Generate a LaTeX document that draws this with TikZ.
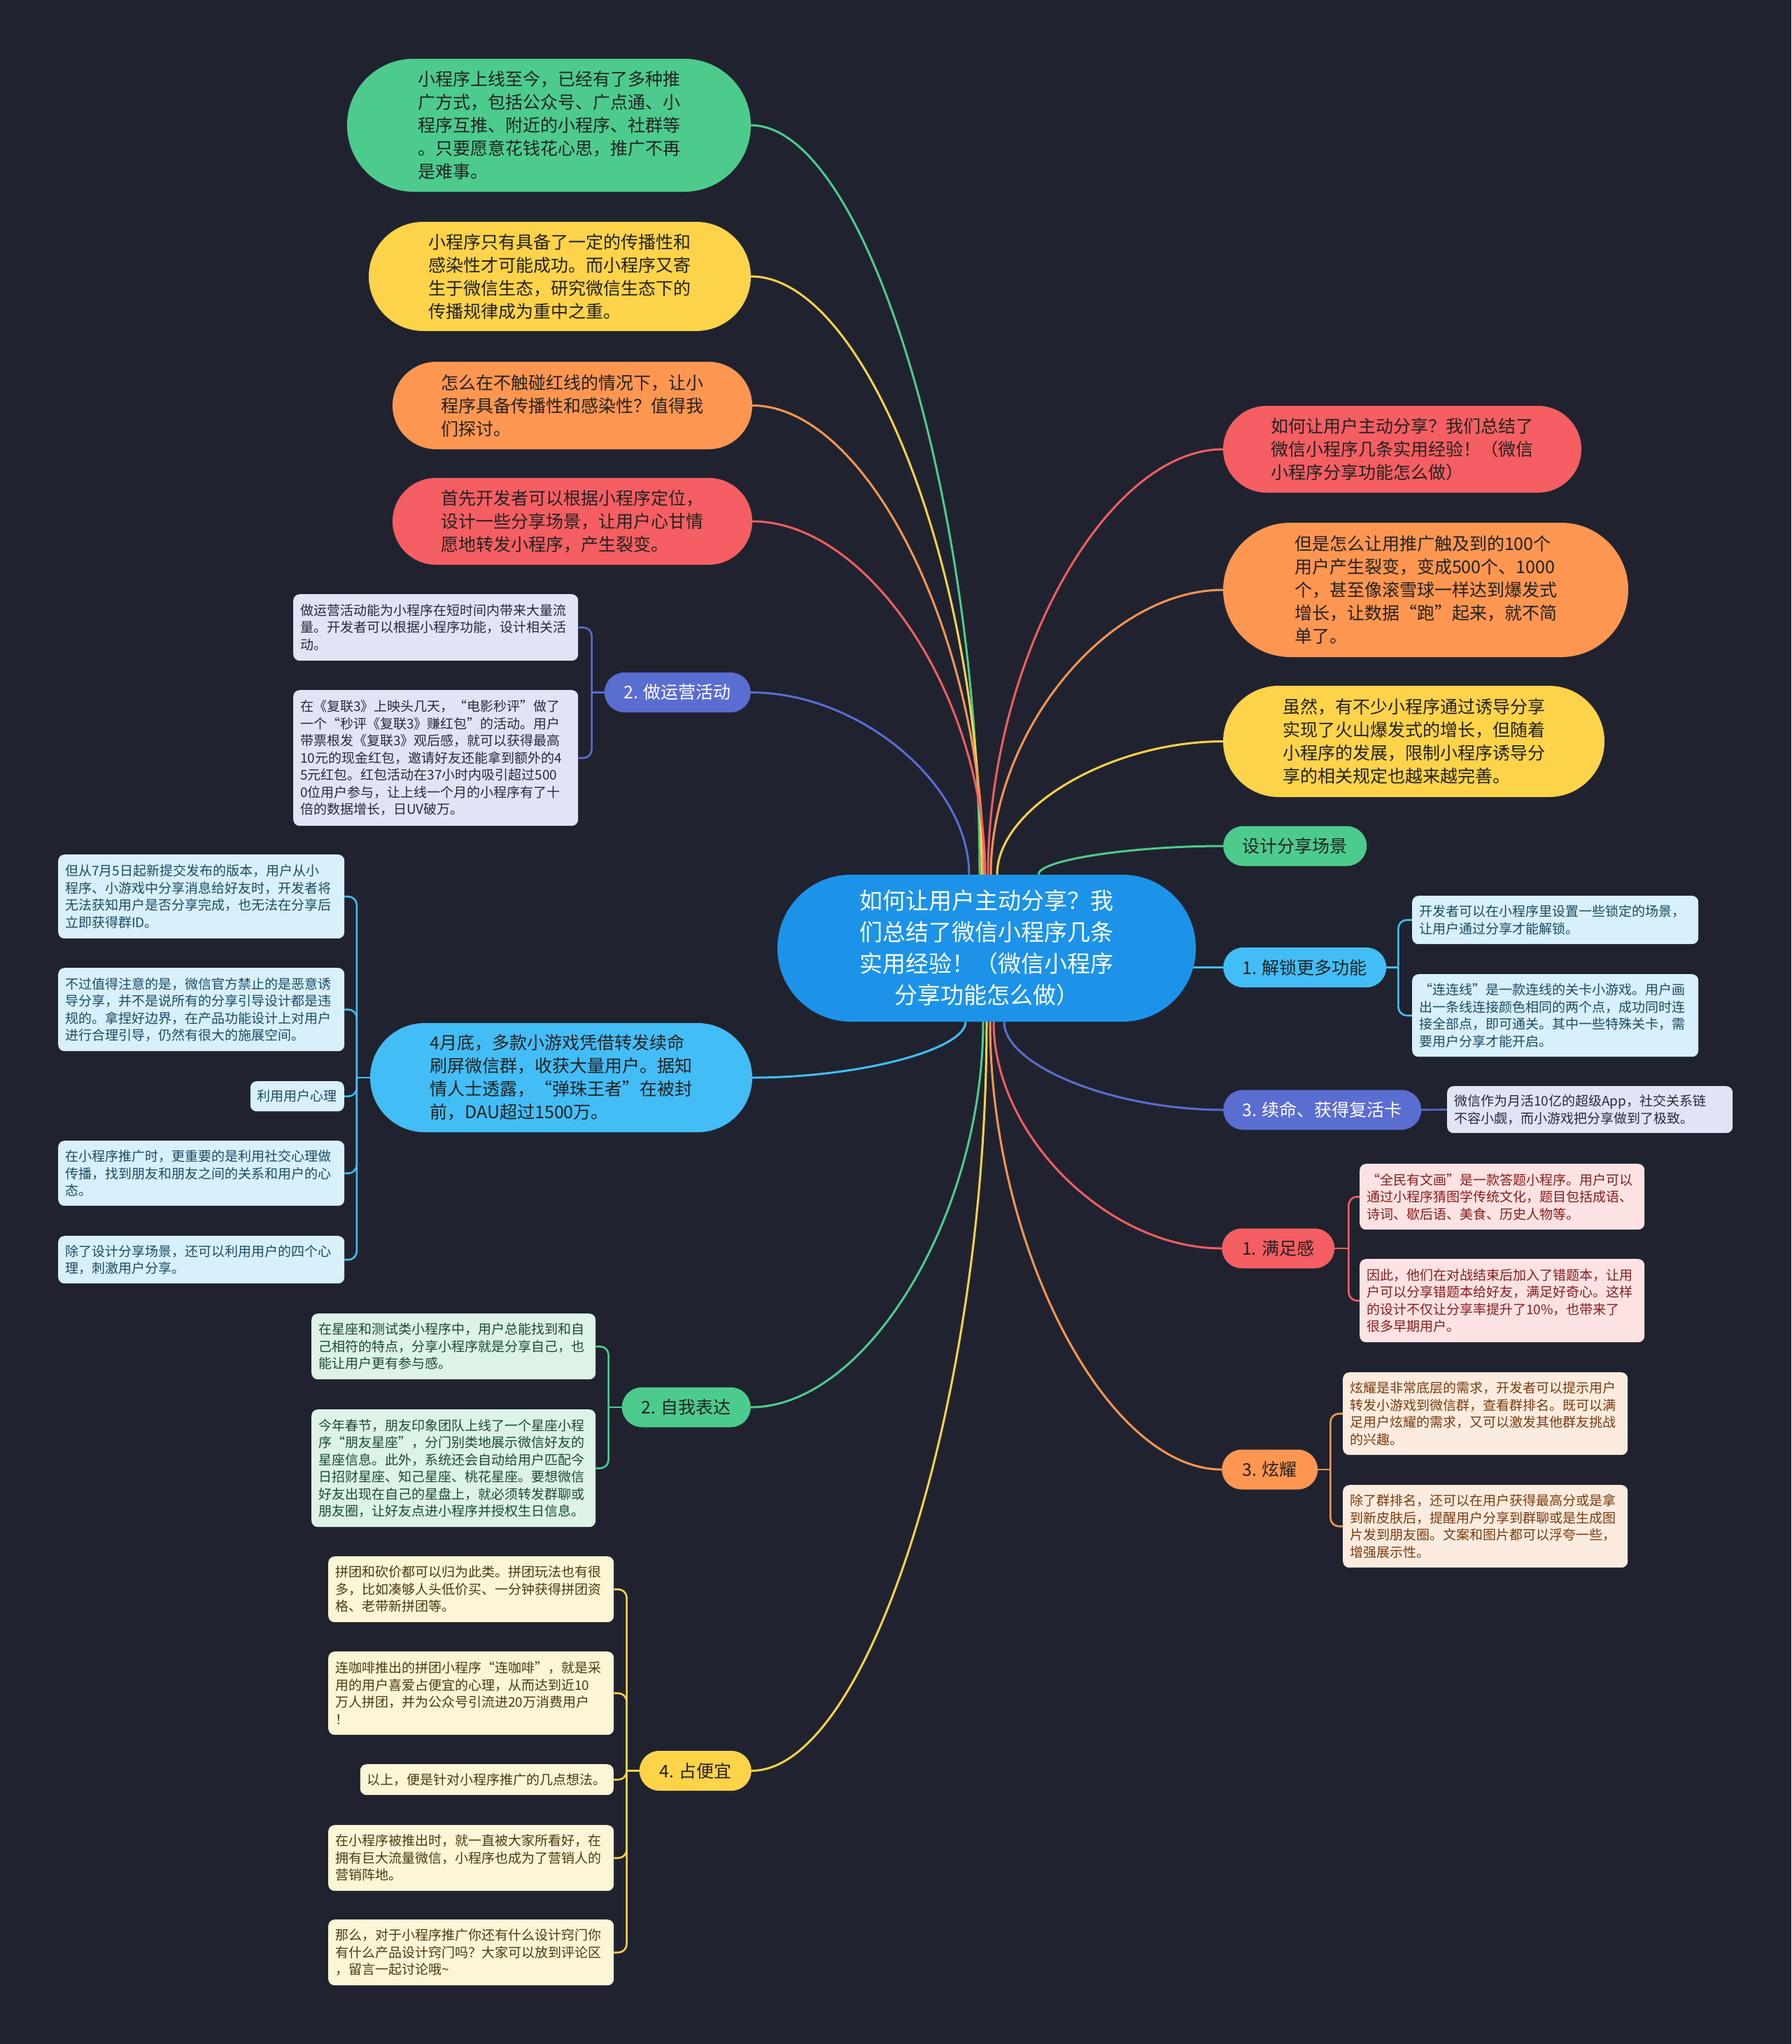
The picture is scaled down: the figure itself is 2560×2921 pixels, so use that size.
\documentclass[tikz,border=0pt]{standalone}
\usepackage{fontspec}
\setmainfont{Noto Sans CJK SC}
\usetikzlibrary{shapes.misc,backgrounds}

\definecolor{bg}{HTML}{20232F}
\definecolor{rootc}{HTML}{1C93E8}
\definecolor{cGreen}{HTML}{4DCB8D}
\definecolor{cYellow}{HTML}{FDD34A}
\definecolor{cOrange}{HTML}{FD9651}
\definecolor{cRed}{HTML}{F55E62}
\definecolor{cSky}{HTML}{43BDF5}
\definecolor{cIndigo}{HTML}{5A6DD1}
\definecolor{ink}{HTML}{222222}
\definecolor{fIndigo}{HTML}{E2E4F6}
\definecolor{fSky}{HTML}{D7F0FB}
\definecolor{fGreen}{HTML}{DCF3E6}
\definecolor{fYellow}{HTML}{FCF5D6}
\definecolor{fRed}{HTML}{FCE2E2}
\definecolor{fOrange}{HTML}{FCECDF}
\definecolor{tIndigo}{HTML}{262A40}
\definecolor{tSky}{HTML}{1C4B63}
\definecolor{tGreen}{HTML}{1D4A33}
\definecolor{tYellow}{HTML}{4A3B10}
\definecolor{tRed}{HTML}{8A1B1B}
\definecolor{tOrange}{HTML}{7A3A0E}

\begin{document}
\begin{tikzpicture}[x=1pt,y=-1pt,
  root/.style={rounded rectangle,fill=rootc,text=white,align=center,
    font=\fontsize{33}{45}\selectfont,minimum width=598pt,minimum height=210pt,inner sep=0pt},
  bubble/.style={rounded rectangle,align=left,text=ink,
    font=\fontsize{25}{33}\selectfont,inner sep=0pt},
  topic/.style={rounded rectangle,text=ink,font=\fontsize{25}{30}\selectfont,
    minimum height=57pt,inner sep=0pt},
  leaf/.style={rectangle,rounded corners=9pt,align=left,
    font=\fontsize{19}{24.5}\selectfont,inner xsep=10pt,inner ysep=0pt},
  leafindigo/.style={leaf,fill=fIndigo,text=tIndigo},
  leafsky/.style={leaf,fill=fSky,text=tSky},
  leafgreen/.style={leaf,fill=fGreen,text=tGreen},
  leafyellow/.style={leaf,fill=fYellow,text=tYellow},
  leafred/.style={leaf,fill=fRed,text=tRed},
  leaforange/.style={leaf,fill=fOrange,text=tOrange},
  link/.style={line width=3pt},
  twig/.style={line width=2.6pt,rounded corners=12pt}]

  % 中心主题
  \node[root] (root) at (1410,1355) {如何让用户主动分享？我\\们总结了微信小程序几条\\实用经验！（微信小程序\\分享功能怎么做）};

  % 左上气泡
  \node[bubble,fill=cGreen,minimum width=577pt,minimum height=190pt] (intro) at (784.5,179)
    {小程序上线至今，已经有了多种推\\广方式，包括公众号、广点通、小\\程序互推、附近的小程序、社群等\\。只要愿意花钱花心思，推广不再\\是难事。};
  \node[bubble,fill=cYellow,minimum width=546pt,minimum height=156pt] (spread) at (800,395)
    {小程序只有具备了一定的传播性和\\感染性才可能成功。而小程序又寄\\生于微信生态，研究微信生态下的\\传播规律成为重中之重。};
  \node[bubble,fill=cOrange,minimum width=514pt,minimum height=125pt] (redline) at (818,579.5)
    {怎么在不触碰红线的情况下，让小\\程序具备传播性和感染性？值得我\\们探讨。};
  \node[bubble,fill=cRed,minimum width=514pt,minimum height=124pt] (scenario) at (818,745)
    {首先开发者可以根据小程序定位，\\设计一些分享场景，让用户心甘情\\愿地转发小程序，产生裂变。};

  % 右上气泡
  \node[bubble,fill=cRed,minimum width=512pt,minimum height=124pt] (title) at (2004,642)
    {如何让用户主动分享？我们总结了\\微信小程序几条实用经验！（微信\\小程序分享功能怎么做）};
  \node[bubble,fill=cOrange,minimum width=579pt,minimum height=192pt] (fission) at (2037.5,843)
    {但是怎么让用推广触及到的100个\\用户产生裂变，变成500个、1000\\个，甚至像滚雪球一样达到爆发式\\增长，让数据“跑”起来，就不简\\单了。};
  \node[bubble,fill=cYellow,minimum width=545pt,minimum height=159pt] (rules) at (2020.5,1059.5)
    {虽然，有不少小程序通过诱导分享\\实现了火山爆发式的增长，但随着\\小程序的发展，限制小程序诱导分\\享的相关规定也越来越完善。};

  % 左侧气泡
  \node[bubble,fill=cSky,minimum width=546pt,minimum height=156pt] (games) at (802,1540)
    {4月底，多款小游戏凭借转发续命\\刷屏微信群，收获大量用户。据知\\情人士透露，“弹珠王者”在被封\\前，DAU超过1500万。};

  % 分支主题
  \node[topic,fill=cIndigo,text=white,minimum width=209pt,anchor=east] (activity) at (1073,989.5) {2. 做运营活动};
  \node[topic,fill=cGreen,minimum width=184pt,anchor=east] (express) at (1073,2011) {2. 自我表达};
  \node[topic,fill=cYellow,minimum width=160pt,anchor=east] (bargain) at (1074,2530.5) {4. 占便宜};
  \node[topic,fill=cGreen,minimum width=205pt,anchor=west] (design) at (1748,1209) {设计分享场景};
  \node[topic,fill=cSky,minimum width=233pt,anchor=west] (unlock) at (1748,1382.5) {1. 解锁更多功能};
  \node[topic,fill=cIndigo,text=white,minimum width=283pt,anchor=west] (revive) at (1748,1586) {3. 续命、获得复活卡};
  \node[topic,fill=cRed,minimum width=161pt,anchor=west] (satisfy) at (1746,1784) {1. 满足感};
  \node[topic,fill=cOrange,minimum width=137pt,anchor=west] (showoff) at (1746,2100) {3. 炫耀};

  % 做运营活动
  \node[leafindigo,anchor=north west,text width=387pt,minimum height=95pt] (activity1) at (419,849)
    {做运营活动能为小程序在短时间内带来大量流\\量。开发者可以根据小程序功能，设计相关活\\动。};
  \node[leafindigo,anchor=north west,text width=387pt,minimum height=194pt] (activity2) at (419,986)
    {在《复联3》上映头几天，“电影秒评”做了\\一个“秒评《复联3》赚红包”的活动。用户\\带票根发《复联3》观后感，就可以获得最高\\10元的现金红包，邀请好友还能拿到额外的4\\5元红包。红包活动在37小时内吸引超过500\\0位用户参与，让上线一个月的小程序有了十\\倍的数据增长，日UV破万。};

  % 利用用户心理
  \node[leafsky,anchor=north west,text width=389pt,minimum height=120pt] (games1) at (83,1221)
    {但从7月5日起新提交发布的版本，用户从小\\程序、小游戏中分享消息给好友时，开发者将\\无法获知用户是否分享完成，也无法在分享后\\立即获得群ID。};
  \node[leafsky,anchor=north west,text width=389pt,minimum height=119pt] (games2) at (83,1383)
    {不过值得注意的是，微信官方禁止的是恶意诱\\导分享，并不是说所有的分享引导设计都是违\\规的。拿捏好边界，在产品功能设计上对用户\\进行合理引导，仍然有很大的施展空间。};
  \node[leafsky,anchor=north east,minimum height=43pt] (games3) at (492,1545) {利用用户心理};
  \node[leafsky,anchor=north west,text width=389pt,minimum height=93pt] (games4) at (83,1630)
    {在小程序推广时，更重要的是利用社交心理做\\传播，找到朋友和朋友之间的关系和用户的心\\态。};
  \node[leafsky,anchor=north west,text width=389pt,minimum height=68pt] (games5) at (83,1766)
    {除了设计分享场景，还可以利用用户的四个心\\理，刺激用户分享。};

  % 自我表达
  \node[leafgreen,anchor=north west,text width=386pt,minimum height=94pt] (express1) at (445,1877)
    {在星座和测试类小程序中，用户总能找到和自\\己相符的特点，分享小程序就是分享自己，也\\能让用户更有参与感。};
  \node[leafgreen,anchor=north west,text width=386pt,minimum height=168pt] (express2) at (445,2014)
    {今年春节，朋友印象团队上线了一个星座小程\\序“朋友星座”，分门别类地展示微信好友的\\星座信息。此外，系统还会自动给用户匹配今\\日招财星座、知己星座、桃花星座。要想微信\\好友出现在自己的星盘上，就必须转发群聊或\\朋友圈，让好友点进小程序并授权生日信息。};

  % 占便宜
  \node[leafyellow,anchor=north west,text width=388pt,minimum height=94pt] (bargain1) at (469,2224)
    {拼团和砍价都可以归为此类。拼团玩法也有很\\多，比如凑够人头低价买、一分钟获得拼团资\\格、老带新拼团等。};
  \node[leafyellow,anchor=north west,text width=388pt,minimum height=119pt] (bargain2) at (469,2360)
    {连咖啡推出的拼团小程序“连咖啡”，就是采\\用的用户喜爱占便宜的心理，从而达到近10\\万人拼团，并为公众号引流进20万消费用户\\！};
  \node[leafyellow,anchor=north east,minimum height=44pt] (bargain3) at (877,2521) {以上，便是针对小程序推广的几点想法。};
  \node[leafyellow,anchor=north west,text width=388pt,minimum height=94pt] (bargain4) at (469,2608)
    {在小程序被推出时，就一直被大家所看好，在\\拥有巨大流量微信，小程序也成为了营销人的\\营销阵地。};
  \node[leafyellow,anchor=north west,text width=388pt,minimum height=94pt] (bargain5) at (469,2743)
    {那么，对于小程序推广你还有什么设计窍门你\\有什么产品设计窍门吗？大家可以放到评论区\\，留言一起讨论哦\textasciitilde};

  % 解锁更多功能
  \node[leafsky,anchor=north west,text width=389pt,minimum height=69pt] (unlock1) at (2018,1280)
    {开发者可以在小程序里设置一些锁定的场景，\\让用户通过分享才能解锁。};
  \node[leafsky,anchor=north west,text width=389pt,minimum height=118pt] (unlock2) at (2018,1392)
    {“连连线”是一款连线的关卡小游戏。用户画\\出一条线连接颜色相同的两个点，成功同时连\\接全部点，即可通关。其中一些特殊关卡，需\\要用户分享才能开启。};

  % 续命
  \node[leafindigo,anchor=north west,text width=388pt,minimum height=67pt] (revive1) at (2068,1552)
    {微信作为月活10亿的超级App，社交关系链\\不容小觑，而小游戏把分享做到了极致。};

  % 满足感
  \node[leafred,anchor=north west,text width=387pt,minimum height=94pt] (satisfy1) at (1943,1663)
    {“全民有文画”是一款答题小程序。用户可以\\通过小程序猜图学传统文化，题目包括成语、\\诗词、歇后语、美食、历史人物等。};
  \node[leafred,anchor=north west,text width=387pt,minimum height=119pt] (satisfy2) at (1943,1799)
    {因此，他们在对战结束后加入了错题本，让用\\户可以分享错题本给好友，满足好奇心。这样\\的设计不仅让分享率提升了10\%，也带来了\\很多早期用户。};

  % 炫耀
  \node[leaforange,anchor=north west,text width=387pt,minimum height=118pt] (showoff1) at (1919,1961)
    {炫耀是非常底层的需求，开发者可以提示用户\\转发小游戏到微信群，查看群排名。既可以满\\足用户炫耀的需求，又可以激发其他群友挑战\\的兴趣。};
  \node[leaforange,anchor=north west,text width=387pt,minimum height=118pt] (showoff2) at (1919,2122)
    {除了群排名，还可以在用户获得最高分或是拿\\到新皮肤后，提醒用户分享到群聊或是生成图\\片发到朋友圈。文案和图片都可以浮夸一些，\\增强展示性。};

  \begin{scope}[on background layer]
    % 背景
    \fill[bg] (0,0) rectangle (2560,2921);
    \useasboundingbox (0,0) rectangle (2560,2921);

    % 中心向上
    \draw[link,cGreen] ([xshift=-10pt]root.north) .. controls (1400,714.5) and (1236.5,179) .. (intro.east);
    \draw[link,cYellow] ([xshift=-7pt]root.north) .. controls (1403,822.5) and (1238,395) .. (spread.east);
    \draw[link,cOrange] ([xshift=-4pt]root.north) .. controls (1406,915) and (1240.5,579.5) .. (redline.east);
    \draw[link,cRed] ([xshift=-2pt]root.north) .. controls (1408,997.5) and (1241.5,745) .. (scenario.east);
    \draw[link,cIndigo] ([xshift=-25pt]root.north) .. controls (1385,1121) and (1229,989.5) .. (activity.east);
    \draw[link,cRed] ([xshift=2pt]root.north) .. controls (1412,946) and (1580,642) .. (title.west);
    \draw[link,cOrange] ([xshift=6pt]root.north) .. controls (1416,1046.5) and (1582,843) .. (fission.west);
    \draw[link,cYellow] ([xshift=15pt]root.north) .. controls (1425,1155) and (1586.5,1059.5) .. (rules.west);
    \draw[link,cGreen] ([xshift=74pt]root.north) .. controls (1484,1229) and (1616,1209) .. (design.west);

    % 中心向右
    \draw[link,cSky] (root.center |- unlock.west) -- (unlock.west);

    % 中心向下
    \draw[link,cSky] ([xshift=-30pt]root.south) .. controls (1380,1500) and (1227.5,1540) .. (games.east);
    \draw[link,cGreen] ([xshift=-5pt]root.south) .. controls (1405,1735.5) and (1239,2011) .. (express.east);
    \draw[link,cYellow] (root.south) .. controls (1410,1995) and (1242,2530.5) .. (bargain.east);
    \draw[link,cIndigo] ([xshift=25pt]root.south) .. controls (1435,1523) and (1591.5,1586) .. (revive.west);
    \draw[link,cRed] ([xshift=10pt]root.south) .. controls (1420,1622) and (1583,1784) .. (satisfy.west);
    \draw[link,cOrange] ([xshift=5pt]root.south) .. controls (1415,1780) and (1580.5,2100) .. (showoff.west);

    % 子节点连线
    \draw[twig,cIndigo] (activity.west) -- ++(-18,0) coordinate (activityj);
    \foreach \k in {1,2} \draw[twig,cIndigo] (activityj) |- (activity\k.east);

    \draw[twig,cSky] (games.west) -- ++(-19,0) coordinate (gamesj);
    \foreach \k in {1,...,5} \draw[twig,cSky] (gamesj) |- (games\k.east);

    \draw[twig,cGreen] (express.west) -- ++(-19,0) coordinate (expressj);
    \foreach \k in {1,2} \draw[twig,cGreen] (expressj) |- (express\k.east);

    \draw[twig,cYellow] (bargain.west) -- ++(-18,0) coordinate (bargainj);
    \foreach \k in {1,...,5} \draw[twig,cYellow] (bargainj) |- (bargain\k.east);

    \draw[twig,cSky] (unlock.east) -- ++(17,0) coordinate (unlockj);
    \foreach \k in {1,2} \draw[twig,cSky] (unlockj) |- (unlock\k.west);

    \draw[twig,cIndigo] (revive.east) -- (revive1.west);

    \draw[twig,cRed] (satisfy.east) -- ++(20,0) coordinate (satisfyj);
    \foreach \k in {1,2} \draw[twig,cRed] (satisfyj) |- (satisfy\k.west);

    \draw[twig,cOrange] (showoff.east) -- ++(18,0) coordinate (showoffj);
    \foreach \k in {1,2} \draw[twig,cOrange] (showoffj) |- (showoff\k.west);
  \end{scope}
\end{tikzpicture}
\end{document}
